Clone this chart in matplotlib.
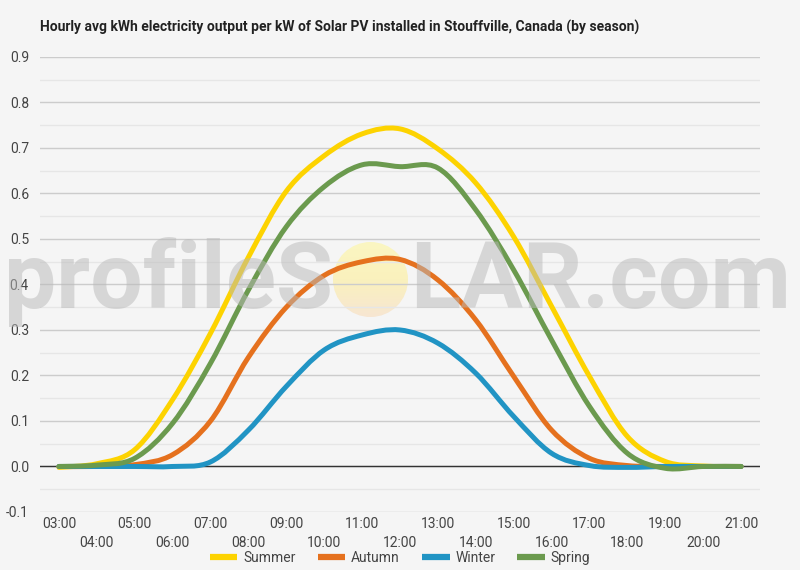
import numpy as np
import matplotlib.pyplot as plt
from matplotlib.path import Path
from matplotlib.patches import PathPatch, Circle
from matplotlib.colors import LinearSegmentedColormap
from matplotlib.lines import Line2D

plt.rcParams['font.family'] = ['Roboto', 'DejaVu Sans']

hours = ['03:00', '04:00', '05:00', '06:00', '07:00', '08:00', '09:00', '10:00',
         '11:00', '12:00', '13:00', '14:00', '15:00', '16:00', '17:00', '18:00',
         '19:00', '20:00', '21:00']
summer = [-0.002, 0.006, 0.037, 0.147, 0.293, 0.46, 0.605, 0.683, 0.731, 0.742,
          0.698, 0.623, 0.505, 0.352, 0.198, 0.066, 0.011, 0.001, 0.0]
autumn = [0.0, 0.0, 0.004, 0.026, 0.10, 0.24, 0.35, 0.42, 0.45, 0.455,
          0.41, 0.322, 0.198, 0.08, 0.018, 0.002, 0.0, 0.0, 0.0]
winter = [0.0, 0.0, 0.0, 0.0, 0.01, 0.08, 0.176, 0.256, 0.289, 0.30,
          0.271, 0.205, 0.11, 0.029, 0.002, -0.002, 0.0, 0.0, 0.0]
spring = [0.0, 0.003, 0.018, 0.095, 0.227, 0.388, 0.527, 0.615, 0.663, 0.659,
          0.656, 0.564, 0.432, 0.278, 0.132, 0.029, -0.004, 0.0, 0.0]
names = ['Summer', 'Autumn', 'Winter', 'Spring']
colors = ['#fdd300', '#e5711e', '#2194c4', '#6b9a4e']

bg = '#f5f5f5'
txt = '#444444'


def smooth_path(x, y):
    # catmull-rom through the points, written as cubic bezier segments
    x = np.asarray(x, float)
    y = np.asarray(y, float)
    pts = np.column_stack([x, y])
    verts = [pts[0]]
    codes = [Path.MOVETO]
    n = len(pts)
    for i in range(n - 1):
        p0 = pts[max(i - 1, 0)]
        p1 = pts[i]
        p2 = pts[i + 1]
        p3 = pts[min(i + 2, n - 1)]
        c1 = p1 + (p2 - p0) / 6
        c2 = p2 - (p3 - p1) / 6
        verts += [c1, c2, p2]
        codes += [Path.CURVE4] * 3
    return Path(verts, codes)


fig = plt.figure(figsize=(8, 5.7), dpi=100, facecolor=bg)

# sun of the watermark, under the chart
sun = fig.add_axes([0.4631 - 0.046875, 0.5096 - 0.0658, 0.09375, 0.1316], zorder=-1)
sun.axis('off')
grad = np.linspace(0, 1, 64)[:, None]
cmap = LinearSegmentedColormap.from_list('sun', ['#fbf6c2', '#faf1bd', '#f7e6d2'])
img = sun.imshow(grad, cmap=cmap, aspect='auto', extent=(0, 1, 0, 1), origin='upper')
img.set_clip_path(Circle((0.5, 0.5), 0.5, transform=sun.transAxes))

ax = fig.add_axes([0.05, 0.1018, 0.9, 0.7982], facecolor='none')

x = np.arange(len(hours))
ax.set_xlim(-0.5, len(hours) - 0.5)
ax.set_ylim(-0.1, 0.9)

ax.set_yticks(np.arange(-0.1, 0.91, 0.1))
ax.set_yticks(np.arange(-0.05, 0.9, 0.1), minor=True)
ax.set_yticklabels([f'{v:.1f}' for v in np.arange(-0.1, 0.91, 0.1)])
ax.grid(axis='y', which='major', color='#cccccc', lw=1)
ax.grid(axis='y', which='minor', color='#e6e6e6', lw=1)
ax.axhline(0, color='#333333', lw=1, zorder=2)

ax.set_xticks(x[::2])
ax.set_xticklabels(hours[::2])
ax.set_xticks(x[1::2], minor=True)
ax.set_xticklabels(hours[1::2], minor=True)
ax.tick_params(axis='x', which='major', length=0, pad=3.5, labelsize=10, colors=txt)
ax.tick_params(axis='x', which='minor', length=0, pad=17, labelsize=10, colors=txt)
ax.tick_params(axis='y', which='both', length=0, pad=8, labelsize=10, colors=txt)
for s in ax.spines.values():
    s.set_visible(False)

handles = []
for vals, name, c in zip([summer, autumn, winter, spring], names, colors):
    ax.add_patch(PathPatch(smooth_path(x, vals), fill=False, ec=c, lw=3.6,
                           capstyle='round', joinstyle='round', zorder=3))
    handles.append(Line2D([], [], color=c, lw=4.5, solid_capstyle='butt'))

# watermark text
fig.text(0.416, 0.4596, 'profileS', ha='right', va='baseline', fontsize=67,
         fontweight='bold', color='#b9b9b9', alpha=0.5, zorder=6)
fig.text(0.5125, 0.4596, 'LAR.com', ha='left', va='baseline', fontsize=67,
         fontweight='bold', color='#b9b9b9', alpha=0.5, zorder=6)

fig.text(0.05, 0.951, 'Hourly avg kWh electricity output per kW of Solar PV installed in '
         'Stouffville, Canada (by season)', ha='left', va='center', fontsize=10,
         fontweight='bold', color='#222222')

fig.legend(handles, names, loc='center', bbox_to_anchor=(0.5, 0.021), ncol=4,
           frameon=False, fontsize=10, handlelength=2.0, handletextpad=0.4,
           columnspacing=1.6, labelcolor=txt)

fig.savefig('out.png', dpi=100, facecolor=bg)
